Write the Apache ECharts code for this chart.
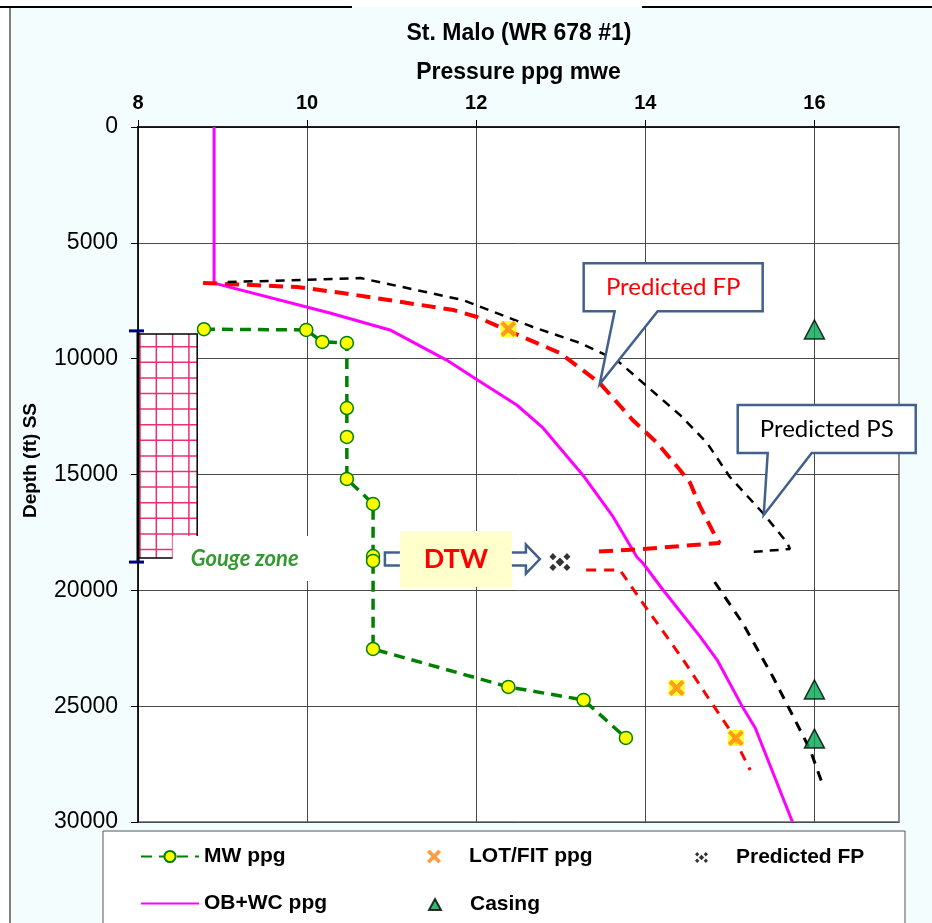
<!DOCTYPE html>
<html>
<head>
<meta charset="utf-8">
<script src="https://cdn.jsdelivr.net/npm/echarts@6/dist/echarts.min.js"></script>
<style>
html,body{margin:0;padding:0;background:#fff;}
#chart{width:932px;height:923px;}
</style>
</head>
<body>
<div id="chart"></div>
<script>
// ---- axis ranges / ticks ----
const xRange = [8, 17];      // Pressure ppg mwe
const xStep = 2;
const xTicks = [8, 10, 12, 14, 16];
const yRange = [0, 30000];   // Depth (ft) SS
const yStep = 5000;

// ---- series data: [pressure ppg, depth ft] ----
const mwPpg = [[8.78,8730],[9.99,8760],[10.18,9280],[10.47,9320],[10.47,12130],[10.47,13380],[10.47,15190],[10.78,16270],[10.78,18520],[10.78,18730],[10.78,22530],[12.38,24170],[13.27,24730],[13.77,26370]];
const obWcPpg = [[8.90,0],[8.90,6740],[8.91,6820],[10.27,8030],[10.98,8760],[11.65,10060],[11.96,10790],[12.48,12000],[12.79,12990],[13.26,15020],[13.62,16830],[13.90,18560],[13.97,18820],[14.21,19985],[14.65,22010],[14.85,23010],[15.15,25040],[15.30,25940],[15.74,30000]];
const lotFitPpg = [[12.38,8720],[14.37,24215],[15.07,26374]];
const casing = [[16,8740],[16,24280],[16,26400]];
const predictedFpPoint = [[12.99,18780]];
// Predicted FP curve (red), upper and lower parts
const predFpUpper = [[8.77,6734],[9.88,6906],[10.42,7165],[11.73,7899],[12.01,8201],[12.36,8763],[12.99,9755],[13.46,11050],[13.85,12647],[14.14,13640],[14.41,14806],[14.53,15367],[14.65,16400],[14.85,17827],[14.88,17957],[13.97,18216],[13.37,18345]];
const predFpLower = [[13.30,19122],[13.70,19122],[13.97,20547],[14.45,23007],[14.76,24733],[15.00,26028],[15.24,27755]];
// Predicted PS curve (black), upper and lower parts
const predPsUpper = [[9.06,6690],[9.95,6604],[10.63,6518],[11.84,7468],[12.67,8633],[13.23,9324],[13.66,10058],[14.41,12431],[14.73,13640],[15.00,15108],[15.39,16662],[15.68,17957],[15.71,18216],[15.26,18345]];
const predPsLower = [[14.82,19640],[15.15,21410],[15.51,23740],[15.83,26028],[15.95,26891],[16.09,28316]];
// Gouge zone: [xMin, depthTop, xMax, depthBottom]
const gougeZone = [[8, 8935, 8.70, 18604]];
// Gouge interval bar at axis: [x, depthTop, depthBottom]
const gougeBar = [[8, 8800, 18780]];

// annotation anchors (data coords)
const fpCalloutTip = [13.46, 11100];
const psCalloutTip = [15.40, 16750];
const dtwArrowStart = [10.92, 18650];
const gougeLabelLeft = [8.41, 18650];

const AR = 'Liberation Sans, Arial, sans-serif';
const CAL = 'Lato, Carlito, Calibri, sans-serif';

const fpSymbol = 'path://M4,0L8,4L4,8L0,4Z M20,0L24,4L20,8L16,4Z M12,5L17,10L12,15L7,10Z M4,12L8,16L4,20L0,16Z M20,12L24,16L20,20L16,16Z';
const xSymbol = 'path://M0,3L3,0L8,5L13,0L16,3L11,8L16,13L13,16L8,11L3,16L0,13L5,8Z';

const chart = echarts.init(document.getElementById('chart'), null, {renderer:'canvas'});

function legendAt(item, left, top, w, h, pad) {
  return {
    data: [item], left: left, top: top, padding: 0, itemWidth: w, itemHeight: h,
    selectedMode: false,
    textStyle: {fontFamily: AR, fontWeight: 'bold', fontSize: 21, color: '#000', padding: [0,0,0,pad]}
  };
}

const option = {
  backgroundColor: 'transparent',
  animation: false,
  title: {
    text: 'St. Malo (WR 678 #1)', left: 514, top: 17, textAlign: 'center',
    textStyle: {fontFamily: AR, fontWeight: 'bold', fontSize: 23, color: '#000'}
  },
  grid: {left: 138, top: 127, width: 761, height: 695, show: true, backgroundColor: '#fff', borderColor: '#8a8a8a', borderWidth: 2},
  legend: [
    legendAt('MW ppg', 140, 846, 58, 14, 0),
    legendAt({name: 'OB+WC ppg', itemStyle: {opacity: 0}}, 140, 893, 58, 14, 0),
    legendAt('LOT/FIT ppg', 427, 846, 14, 14, 23),
    legendAt('Casing', 428, 894, 12, 11, 24),
    legendAt('Predicted FP', 695, 847, 13, 11, 23)
  ],
  xAxis: {
    type: 'value', position: 'top', min: xRange[0], max: xRange[1], interval: xStep,
    name: 'Pressure ppg mwe', nameLocation: 'middle', nameGap: 43,
    nameTextStyle: {fontFamily: AR, fontWeight: 'bold', fontSize: 23, color: '#000'},
    axisLine: {show: true, onZero: false, lineStyle: {color: '#000', width: 1.5}},
    axisTick: {show: true, length: 7, customValues: xTicks, lineStyle: {color: '#000', width: 1}},
    axisLabel: {fontFamily: AR, fontWeight: 'bold', fontSize: 20, color: '#000', margin: 14, customValues: xTicks,
      formatter: v => String(v)},
    splitLine: {show: true, lineStyle: {color: '#4a4a4a', width: 1}}
  },
  yAxis: {
    type: 'value', inverse: true, min: yRange[0], max: yRange[1], interval: yStep,
    name: 'Depth (ft) SS', nameLocation: 'middle', nameGap: 98,
    nameTextStyle: {fontFamily: AR, fontWeight: 'bold', fontSize: 19, color: '#000', padding: [0,0,0,28]},
    axisLine: {show: true, onZero: false, lineStyle: {color: '#000', width: 1.5}},
    axisTick: {show: true, length: 7, lineStyle: {color: '#000', width: 1}},
    axisLabel: {fontFamily: AR, fontSize: 23, color: '#000', margin: 20, formatter: v => String(v)},
    splitLine: {show: true, lineStyle: {color: '#4a4a4a', width: 1}}
  },
  series: [
    {
      name: 'Gouge zone', type: 'custom', data: gougeZone, z: 2, silent: true,
      renderItem: function (params, api) {
        const p0 = api.coord([api.value(0), api.value(1)]);
        const p1 = api.coord([api.value(2), api.value(3)]);
        const x0 = p0[0], y0 = p0[1], x1 = p1[0], y1 = p1[1];
        const kids = [{type: 'rect', shape: {x: x0, y: y0, width: x1 - x0, height: y1 - y0}, style: {fill: '#fff'}}];
        for (let x = x0 + 2; x < x1 - 1; x += 16.3) {
          kids.push({type: 'line', shape: {x1: x, y1: y0, x2: x, y2: y1}, style: {stroke: '#EE2D74', lineWidth: 1.5}});
        }
        for (let y = y0 + 12.7; y < y1 - 1; y += 15.6) {
          kids.push({type: 'line', shape: {x1: x0, y1: y, x2: x1, y2: y}, style: {stroke: '#EE2D74', lineWidth: 1.5}});
        }
        kids.push({type: 'rect', shape: {x: x0, y: y0, width: x1 - x0, height: y1 - y0}, style: {fill: 'none', stroke: '#000', lineWidth: 1.5}});
        return {type: 'group', children: kids};
      }
    },
    {
      name: 'Gouge interval', type: 'custom', data: gougeBar, z: 6, silent: true,
      renderItem: function (params, api) {
        const a = api.coord([api.value(0), api.value(1)]);
        const b = api.coord([api.value(0), api.value(2)]);
        return {type: 'group', children: [
          {type: 'line', shape: {x1: a[0], y1: a[1], x2: b[0], y2: b[1]}, style: {stroke: '#000', lineWidth: 3}},
          {type: 'line', shape: {x1: a[0] - 9, y1: a[1], x2: a[0] + 6, y2: a[1]}, style: {stroke: '#000080', lineWidth: 3}},
          {type: 'line', shape: {x1: b[0] - 9, y1: b[1], x2: b[0] + 6, y2: b[1]}, style: {stroke: '#000080', lineWidth: 3}}
        ]};
      }
    },
    {name: 'OB+WC ppg', type: 'line', data: obWcPpg, symbol: 'none', z: 3,
      lineStyle: {color: '#FF00FF', width: 3}, itemStyle: {color: '#FF00FF'}},
    {name: 'Predicted FP line upper', type: 'line', data: predFpUpper, symbol: 'none', z: 3,
      lineStyle: {color: '#FF0000', width: 4, type: [14, 8]}, itemStyle: {color: '#FF0000'}},
    {name: 'Predicted FP line lower', type: 'line', data: predFpLower, symbol: 'none', z: 3,
      lineStyle: {color: '#FF0000', width: 3, type: [10, 8]}, itemStyle: {color: '#FF0000'}},
    {name: 'Predicted PS upper', type: 'line', data: predPsUpper, symbol: 'none', z: 3,
      lineStyle: {color: '#000', width: 2.5, type: [9, 7]}, itemStyle: {color: '#000'}},
    {name: 'Predicted PS lower', type: 'line', data: predPsLower, symbol: 'none', z: 3,
      lineStyle: {color: '#000', width: 3, type: [10, 8]}, itemStyle: {color: '#000'}},
    {name: 'MW ppg', type: 'line', data: mwPpg, symbol: 'circle', symbolSize: 13, showAllSymbol: true, z: 5,
      lineStyle: {color: '#008000', width: 3.5, type: [11, 7]},
      itemStyle: {color: '#FFFF00', borderColor: '#008000', borderWidth: 1.5}},
    {name: 'LOT bg', type: 'scatter', data: lotFitPpg, symbol: 'rect', symbolSize: 16, z: 5, silent: true,
      itemStyle: {color: '#FFFF00'}},
    {name: 'LOT/FIT ppg', type: 'scatter', data: lotFitPpg, symbol: xSymbol, symbolSize: 16, z: 6,
      itemStyle: {color: '#FF8418'}},
    {name: 'Casing', type: 'scatter', data: casing, symbol: 'triangle', symbolSize: [20, 19], z: 6,
      itemStyle: {color: '#00A651', borderColor: '#000', borderWidth: 1.5}},
    {name: 'Predicted FP', type: 'scatter', data: predictedFpPoint, symbol: fpSymbol, symbolSize: [21, 18], z: 6,
      itemStyle: {color: '#000'}}
  ]
};
chart.setOption(option);

// ---- decorations & annotations ----
const tipFP = chart.convertToPixel({gridIndex: 0}, fpCalloutTip);
const tipPS = chart.convertToPixel({gridIndex: 0}, psCalloutTip);
const arr = chart.convertToPixel({gridIndex: 0}, dtwArrowStart);
const gz = chart.convertToPixel({gridIndex: 0}, gougeLabelLeft);
const STROKE = '#41618C';

function callout(tip, l, r, t, b, p1, p2, text, color) {
  const x = tip[0], y = tip[1];
  return [
    {type: 'polygon', z: 50, shape: {points: [[x+l,y+t],[x+r,y+t],[x+r,y+b],[x+p2,y+b],[x,y],[x+p1,y+b],[x+l,y+b]]},
      style: {fill: '#fff', stroke: STROKE, lineWidth: 2.5, lineJoin: 'miter'}},
    {type: 'text', z: 51, x: x + (l + r) / 2, y: y + (t + b) / 2,
      style: {text: text, fill: color, font: '24px ' + CAL, align: 'center', verticalAlign: 'middle'}}
  ];
}

const graphics = [
  // outer panel & frame
  {type: 'rect', z: -10, silent: true, shape: {x: 10, y: 7, width: 922, height: 916}, style: {fill: '#F4FDFD'}},
  {type: 'line', z: -9, silent: true, shape: {x1: 10, y1: 7, x2: 10, y2: 923}, style: {stroke: '#7f7f7f', lineWidth: 2}},
  {type: 'line', z: -9, silent: true, shape: {x1: 0, y1: 7, x2: 352, y2: 7}, style: {stroke: '#000', lineWidth: 2}},
  {type: 'line', z: -9, silent: true, shape: {x1: 642, y1: 7, x2: 932, y2: 7}, style: {stroke: '#000', lineWidth: 2}},
  // legend box
  {type: 'rect', z: 1, silent: true, shape: {x: 103, y: 831, width: 802, height: 100}, style: {fill: '#fff', stroke: '#555', lineWidth: 1}},
  // gouge zone label
  {type: 'rect', z: 40, shape: {x: gz[0], y: gz[1] - 23, width: 167, height: 45}, style: {fill: '#fff'}},
  {type: 'text', z: 41, x: gz[0] + 72, y: gz[1], style: {text: 'Gouge zone', fill: '#339933', font: 'italic bold 22px ' + CAL, align: 'center', verticalAlign: 'middle'}},
  // DTW arrow + box
  {type: 'polygon', z: 40, shape: {points: [[arr[0],arr[1]-6.5],[arr[0]+141,arr[1]-6.5],[arr[0]+141,arr[1]-14.5],[arr[0]+155,arr[1]],[arr[0]+141,arr[1]+14.5],[arr[0]+141,arr[1]+6.5],[arr[0],arr[1]+6.5]]},
    style: {fill: '#fff', stroke: STROKE, lineWidth: 2.5}},
  {type: 'rect', z: 41, shape: {x: arr[0] + 15, y: arr[1] - 28, width: 112, height: 56}, style: {fill: '#FFFFCC'}},
  {type: 'text', z: 42, x: arr[0] + 71, y: arr[1], style: {text: 'DTW', fill: '#FF0000', font: 'bold 27px ' + CAL, align: 'center', verticalAlign: 'middle'}}
]
  .concat(callout(tipFP, -16, 163, -121, -73, 15, 58, 'Predicted FP', '#FF0000'))
  .concat(callout(tipPS, -26, 152, -110, -62, 4, 48, 'Predicted PS', '#000'));

chart.setOption({graphic: graphics});
</script>
</body>
</html>
